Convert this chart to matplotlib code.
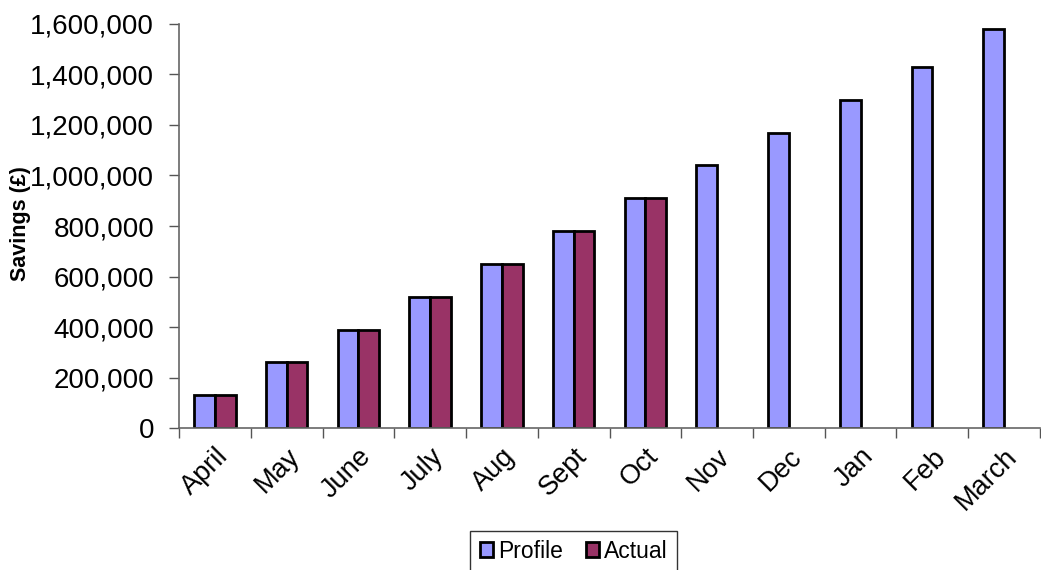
import numpy as np
import matplotlib
matplotlib.use("Agg")
import matplotlib.pyplot as plt
from matplotlib.ticker import FuncFormatter, FixedLocator

plt.rcParams['font.family'] = ['Liberation Sans', 'DejaVu Sans']

months = ['April', 'May', 'June', 'July', 'Aug', 'Sept', 'Oct',
          'Nov', 'Dec', 'Jan', 'Feb', 'March']
profile = [130000, 260000, 390000, 520000, 650000, 780000, 910000,
           1040000, 1170000, 1300000, 1430000, 1580000]
actual = [130000, 260000, 390000, 520000, 650000, 780000, 910000]

fig = plt.figure(figsize=(10.41, 5.70), dpi=100)
ax = fig.add_axes([0.172, 0.249, 0.827, 0.709])

x = np.arange(len(months))
w = 0.29
ax.bar(x - w / 2, profile, w, color='#9999FF', edgecolor='black',
       linewidth=2.0, label='Profile')
ax.bar(np.arange(len(actual)) + w / 2, actual, w, color='#993366',
       edgecolor='black', linewidth=2.0, label='Actual')

ax.set_xlim(-0.5, len(months) - 0.5)
ax.set_ylim(0, 1600000)
ax.set_yticks(np.arange(0, 1600001, 200000))
ax.yaxis.set_major_formatter(FuncFormatter(lambda v, p: f'{int(v):,}'))

# category labels centred, ticks between categories
ax.set_xticks(x)
ax.set_xticklabels(months, rotation=45, ha='right', va='top',
                   rotation_mode='anchor', fontsize=19.5)
ax.tick_params(axis='x', length=0, pad=11)
ax.xaxis.set_minor_locator(FixedLocator(np.arange(-0.5, len(months), 1.0)))
ax.tick_params(axis='x', which='minor', length=7, width=1, color='#555555')
ax.tick_params(axis='y', length=7, width=1, color='#555555',
               labelsize=20, pad=11)

for s in ['top', 'right']:
    ax.spines[s].set_visible(False)
ax.spines['left'].set_color('#666666')
ax.spines['bottom'].set_color('#666666')
ax.spines['left'].set_linewidth(1.2)
ax.spines['bottom'].set_linewidth(1.2)

ax.set_ylabel('Savings (£)', fontsize=15.5, fontweight='bold')
ax.yaxis.set_label_coords(-0.172, 0.505)

leg = fig.legend(loc='upper center', bbox_to_anchor=(0.551, 0.069), ncol=2,
                 fontsize=16.5, frameon=True, fancybox=False, edgecolor='black',
                 handlelength=0.6, handleheight=0.6, handletextpad=0.2,
                 columnspacing=1.0, borderpad=0.4, borderaxespad=0)
leg.get_frame().set_linewidth(1.0)

fig.savefig('out.png', dpi=100)
